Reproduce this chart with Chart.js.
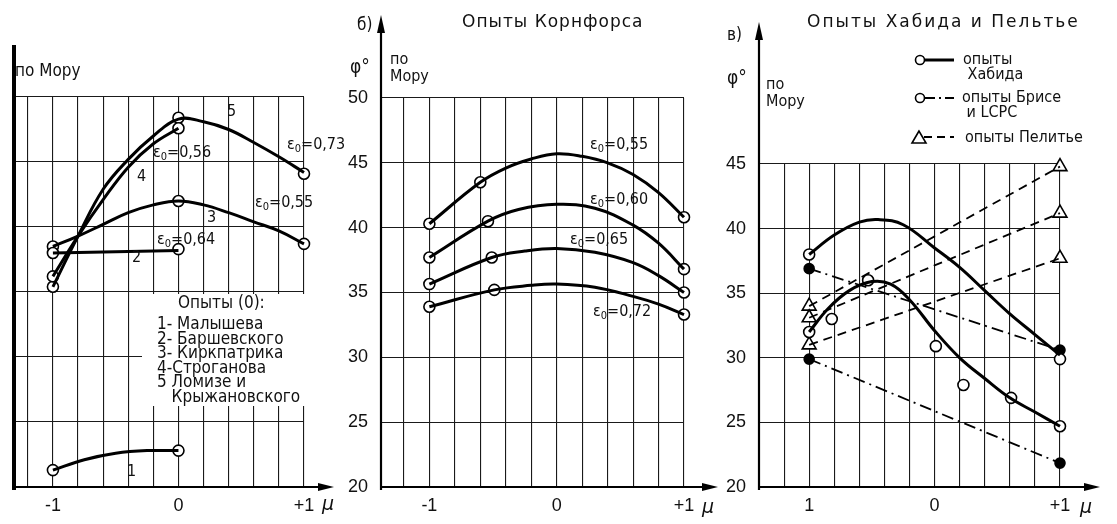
<!DOCTYPE html>
<html lang="ru">
<head>
<meta charset="utf-8">
<title>φ по Мору в зависимости от μ</title>
<script src="https://cdn.jsdelivr.net/npm/chart.js@4.4.1/dist/chart.umd.min.js"></script>
<style>
  body { margin: 0; background: #fff; }
  #wrap { position: relative; width: 1117px; height: 524px; overflow: hidden;
          font-family: "DejaVu Sans Condensed", "DejaVu Sans", sans-serif; color: #111; }
  canvas { position: absolute; top: 0; }
  .t { position: absolute; white-space: nowrap; line-height: 1; font-size: 16px; z-index: 5; }
  .t sub { font-size: 11px; vertical-align: -3px; }
  .ttl { font-family: "DejaVu Sans", sans-serif; font-size: 17px; letter-spacing: 1px; }
  .mu { font-family: "DejaVu Sans", sans-serif; font-style: oblique; font-size: 19px; }
  .box { position: absolute; background: #fff; z-index: 4; }
  svg.sw { position: absolute; z-index: 5; }
</style>
</head>
<body>
<div id="wrap">
  <canvas id="chartA" width="360" height="524" style="left:0"></canvas>
  <canvas id="chartB" width="390" height="524" style="left:330px"></canvas>
  <canvas id="chartC" width="417" height="524" style="left:700px"></canvas>

  <!-- а) -->
  <div class="t" style="left:15px;top:62px;font-size:17px">по Мору</div>
  <div class="t" style="left:227px;top:103px">5</div>
  <div class="t" style="left:287px;top:136px">ε<sub>0</sub>=0,73</div>
  <div class="t" style="left:153px;top:144px">ε<sub>0</sub>=0,56</div>
  <div class="t" style="left:137px;top:168px">4</div>
  <div class="t" style="left:255px;top:194px">ε<sub>0</sub>=0,55</div>
  <div class="t" style="left:207px;top:209px">3</div>
  <div class="t" style="left:157px;top:231px">ε<sub>0</sub>=0,64</div>
  <div class="t" style="left:132px;top:249px">2</div>
  <div class="t" style="left:127px;top:463px">1</div>
  <div class="box" style="left:142px;top:294px;width:170px;height:112px"></div>
  <div class="t" style="left:178px;top:294px;font-size:17px">Опыты (0):</div>
  <div class="t" style="left:157px;top:316px;font-size:17px;line-height:14.6px">1- Малышева<br>2- Баршевского<br>3- Киркпатрика<br>4-Строганова<br>5 Ломизе и<br>&nbsp;&nbsp;&nbsp;Крыжановского</div>
  <div class="t mu" style="left:322px;top:494px">μ</div>

  <!-- б) -->
  <div class="t ttl" style="left:462px;top:13px">Опыты Корнфорса</div>
  <div class="t" style="left:357px;top:16px;font-size:17px">б)</div>
  <div class="t" style="left:350px;top:57px;font-size:19px">φ°</div>
  <div class="t" style="left:390px;top:50px;line-height:17px">по<br>Мору</div>
  <div class="t" style="left:590px;top:136px">ε<sub>0</sub>=0,55</div>
  <div class="t" style="left:590px;top:191px">ε<sub>0</sub>=0,60</div>
  <div class="t" style="left:570px;top:231px">ε<sub>0</sub>=0,65</div>
  <div class="t" style="left:593px;top:303px">ε<sub>0</sub>=0,72</div>
  <div class="t mu" style="left:702px;top:497px">μ</div>

  <!-- в) -->
  <div class="t ttl" style="left:807px;top:13px;letter-spacing:2px">Опыты Хабида и Пельтье</div>
  <div class="t" style="left:727px;top:26px;font-size:17px">в)</div>
  <div class="t" style="left:727px;top:68px;font-size:19px">φ°</div>
  <div class="t" style="left:766px;top:75px;line-height:17px">по<br>Мору</div>
  <svg class="sw" style="left:910px;top:50px" width="50" height="100">
    <circle cx="10" cy="10" r="4.5" fill="#fff" stroke="#000" stroke-width="1.6"/>
    <line x1="15" y1="10" x2="44" y2="10" stroke="#000" stroke-width="3"/>
    <circle cx="10" cy="48" r="4.5" fill="#fff" stroke="#000" stroke-width="1.6"/>
    <line x1="15" y1="48" x2="44" y2="48" stroke="#000" stroke-width="1.8" stroke-dasharray="10 4 2 4"/>
    <polygon points="9,81 2,93 16,93" fill="#fff" stroke="#000" stroke-width="1.6"/>
    <line x1="14" y1="87" x2="44" y2="87" stroke="#000" stroke-width="1.8" stroke-dasharray="8 5"/>
  </svg>
  <div class="t" style="left:963px;top:51px;line-height:15px">опыты<br>&nbsp;Хабида</div>
  <div class="t" style="left:962px;top:89px;line-height:15px">опыты Брисе<br>&nbsp;и LCPC</div>
  <div class="t" style="left:965px;top:129px">опыты Пелитье</div>
  <div class="t mu" style="left:1080px;top:497px">μ</div>
</div>

<script>
// Сетка по μ (шаг 0,2) и по φ
const muGrid = [-1.2, -1.0, -0.8, -0.6, -0.4, -0.2, 0, 0.2, 0.4, 0.6, 0.8, 1.0];
const phiTicks = [20, 25, 30, 35, 40, 45, 50];

// а) Опыты (0): кривые 1-5
const muA5 = [-1, -0.8, -0.6, -0.4, -0.2, 0, 0.2, 0.4, 0.6, 0.8, 1];
const phiA5 = [35.4, 39.3, 42.9, 45.2, 47.0, 48.3, 48.1, 47.5, 46.5, 45.4, 44.2];
const muA4 = [-1, -0.8, -0.6, -0.4, -0.2, 0];
const phiA4 = [36.2, 39.3, 42.1, 44.6, 46.4, 47.6];
const muA3 = [-1, -0.8, -0.6, -0.4, -0.2, 0, 0.2, 0.4, 0.6, 0.8, 1];
const phiA3 = [38.5, 39.3, 40.2, 41.1, 41.7, 42.0, 41.7, 41.1, 40.4, 39.7, 38.7];
const muA2 = [-1, 0];
const phiA2 = [38.0, 38.2];
const muA1 = [-1, -0.75, -0.5, -0.25, 0];
const phiA1 = [21.3, 22.1, 22.6, 22.8, 22.8];
// опытные точки
const ptsAmu = [-1, 0, 1, -1, 0, -1, 0, 1, -1, 0, -1, 0];
const ptsAphi = [35.4, 48.4, 44.1, 36.2, 47.6, 38.5, 42.0, 38.7, 38.0, 38.3, 21.3, 22.8];

// б) Опыты Корнфорса
const muB55 = [-1, -0.6, -0.4, -0.2, 0, 0.2, 0.4, 0.6, 0.8, 1];
const phiB55 = [40.3, 43.5, 44.6, 45.3, 45.7, 45.5, 45.0, 44.1, 42.7, 40.8];
const muB60 = [-1, -0.54, -0.3, 0, 0.3, 0.6, 0.8, 1];
const phiB60 = [37.7, 40.5, 41.4, 41.8, 41.5, 40.2, 38.8, 36.8];
const muB65 = [-1, -0.51, -0.25, 0, 0.3, 0.6, 0.8, 1];
const phiB65 = [35.65, 37.7, 38.2, 38.4, 38.1, 37.3, 36.3, 35.0];
const muB72 = [-1, -0.49, -0.2, 0, 0.3, 0.6, 0.8, 1];
const phiB72 = [33.9, 35.2, 35.55, 35.65, 35.4, 34.7, 34.1, 33.3];
const ptsBmu = [-1, -0.6, 1, -1, -0.54, 1, -1, -0.51, 1, -1, -0.49, 1];
const ptsBphi = [40.3, 43.5, 40.8, 37.7, 40.5, 36.8, 35.65, 37.7, 35.0, 33.9, 35.2, 33.3];

// в) Опыты Хабида (сплошные)
const muC1 = [-1, -0.8, -0.6, -0.45, -0.25, 0, 0.2, 0.4, 0.6, 0.8, 1];
const phiC1 = [38.0, 39.5, 40.5, 40.7, 40.3, 38.5, 37.0, 35.2, 33.4, 31.8, 30.2];
const muC2 = [-1, -0.85, -0.68, -0.5, -0.35, -0.2, 0, 0.2, 0.4, 0.6, 0.8, 1];
const phiC2 = [32.0, 33.8, 35.2, 35.9, 35.7, 34.5, 32.1, 30.0, 28.4, 26.9, 25.8, 24.7];
const habibMu = [-1, -0.53, -0.82, -1, 0.01, 0.23, 0.61, 1, 1];
const habibPhi = [38.0, 36.0, 33.0, 32.0, 30.9, 27.9, 26.9, 29.9, 24.7];
// опыты Брисе и LCPC (штрихпунктир)
const briceMu = [-1, 1];
const briceUp = [36.9, 30.6];
const briceLow = [29.9, 21.85];
// опыты Пелитье (штриховые)
const pelMu = [-1, 1];
const pel1 = [34.0, 44.8];
const pel2 = [33.1, 41.2];
const pel3 = [31.0, 37.7];

const xy = (xs, ys) => xs.map((x, i) => ({ x: x, y: ys[i] }));

function curve(data, width, dash) {
    return {
        data: data,
        borderColor: '#000',
        borderWidth: width,
        borderDash: dash || [],
        pointRadius: 0,
        tension: 0.4,
        fill: false
    };
}

function marks(data, style, fillColor, r) {
    return {
        data: data,
        showLine: false,
        pointStyle: style,
        pointRadius: r,
        pointBackgroundColor: fillColor,
        pointBorderColor: '#000',
        pointBorderWidth: 1.6
    };
}

// Оси со стрелками
const axisArrows = {
    id: 'axisArrows',
    afterDraw(chart, args, opts) {
        const ctx = chart.ctx;
        const a = chart.chartArea;
        ctx.save();
        ctx.strokeStyle = '#000';
        ctx.fillStyle = '#000';
        ctx.lineWidth = 2;
        const xEnd = a.right + opts.x;
        ctx.beginPath();
        ctx.moveTo(a.left, a.bottom);
        ctx.lineTo(xEnd - 8, a.bottom);
        ctx.stroke();
        ctx.beginPath();
        ctx.moveTo(xEnd, a.bottom);
        ctx.lineTo(xEnd - 16, a.bottom - 4);
        ctx.lineTo(xEnd - 16, a.bottom + 4);
        ctx.closePath();
        ctx.fill();

        const yEnd = a.top - opts.y;
        ctx.lineWidth = opts.yWidth;
        ctx.beginPath();
        ctx.moveTo(a.left, a.bottom + 3);
        ctx.lineTo(a.left, yEnd + (opts.yArrow ? 8 : 0));
        ctx.stroke();
        if (opts.yArrow) {
            ctx.beginPath();
            ctx.moveTo(a.left, yEnd);
            ctx.lineTo(a.left - 4, yEnd + 18);
            ctx.lineTo(a.left + 4, yEnd + 18);
            ctx.closePath();
            ctx.fill();
        }
        ctx.restore();
    }
};

function muLabel(v, minusOne) {
    if (Math.abs(v + 1) < 1e-6) return minusOne;
    if (Math.abs(v) < 1e-6) return '0';
    if (Math.abs(v - 1) < 1e-6) return '+1';
    return '';
}

function makePanel(id, datasets, p) {
    return new Chart(document.getElementById(id), {
        type: 'line',
        data: { datasets: datasets },
        plugins: [axisArrows],
        options: {
            responsive: false,
            animation: false,
            clip: false,
            layout: { padding: { left: 0, right: p.right, top: p.top, bottom: 0 } },
            plugins: {
                legend: { display: false },
                tooltip: { enabled: false },
                axisArrows: { x: p.arrowX, y: p.arrowY, yArrow: p.yArrow, yWidth: p.yWidth }
            },
            scales: {
                x: {
                    type: 'linear',
                    min: p.muMin,
                    max: 1,
                    afterBuildTicks: (axis) => { axis.ticks = muGrid.map(v => ({ value: v })); },
                    afterFit: (axis) => { axis.height = 37; },
                    grid: { color: '#1a1a1a', lineWidth: 1.1, drawTicks: false },
                    border: { display: false },
                    ticks: {
                        autoSkip: false,
                        maxRotation: 0,
                        padding: 8,
                        color: '#111',
                        font: { family: 'Liberation Sans', size: 18 },
                        callback: (v) => muLabel(v, p.minusOne)
                    }
                },
                y: {
                    min: 20,
                    max: p.phiMax,
                    afterBuildTicks: (axis) => {
                        axis.ticks = phiTicks.filter(v => v <= p.phiMax).map(v => ({ value: v }));
                    },
                    afterFit: (axis) => { axis.width = p.yAxisWidth; },
                    grid: { color: '#1a1a1a', lineWidth: 1.1, drawTicks: false },
                    border: { display: false },
                    ticks: {
                        display: p.yTicks,
                        padding: 13,
                        color: '#111',
                        font: { family: 'Liberation Sans', size: 18 }
                    }
                }
            }
        }
    });
}

// Панель а)
makePanel('chartA', [
    curve(xy(muA5, phiA5), 3),
    curve(xy(muA4, phiA4), 3),
    curve(xy(muA3, phiA3), 3),
    curve(xy(muA2, phiA2), 3),
    curve(xy(muA1, phiA1), 3),
    marks(xy(ptsAmu, ptsAphi), 'circle', '#fff', 5.5)
], { muMin: -1.31, phiMax: 50, right: 56, top: 97, yAxisWidth: 14, yTicks: false,
     arrowX: 30, arrowY: 52, yArrow: false, yWidth: 4, minusOne: '-1' });

// Панель б)
makePanel('chartB', [
    curve(xy(muB55, phiB55), 3),
    curve(xy(muB60, phiB60), 3),
    curve(xy(muB65, phiB65), 3),
    curve(xy(muB72, phiB72), 3),
    marks(xy(ptsBmu, ptsBphi), 'circle', '#fff', 5.5)
], { muMin: -1.38, phiMax: 50, right: 36, top: 98, yAxisWidth: 51, yTicks: true,
     arrowX: 34, arrowY: 83, yArrow: true, yWidth: 2.2, minusOne: '-1' });

// Панель в)
makePanel('chartC', [
    curve(xy(muC1, phiC1), 3),
    curve(xy(muC2, phiC2), 3),
    curve(xy(briceMu, briceUp), 1.8, [12, 5, 2, 5]),
    curve(xy(briceMu, briceLow), 1.8, [12, 5, 2, 5]),
    curve(xy(pelMu, pel1), 1.8, [9, 6]),
    curve(xy(pelMu, pel2), 1.8, [9, 6]),
    curve(xy(pelMu, pel3), 1.8, [9, 6]),
    marks(xy(habibMu, habibPhi), 'circle', '#fff', 5.5),
    marks(xy(briceMu.concat(briceMu), briceUp.concat(briceLow)), 'circle', '#000', 5),
    marks(xy(pelMu.concat(pelMu, pelMu), pel1.concat(pel2, pel3)), 'triangle', '#fff', 8)
], { muMin: -1.4, phiMax: 45, right: 57, top: 164, yAxisWidth: 59, yTicks: true,
     arrowX: 40, arrowY: 142, yArrow: true, yWidth: 2.2, minusOne: '1' });
</script>
</body>
</html>
